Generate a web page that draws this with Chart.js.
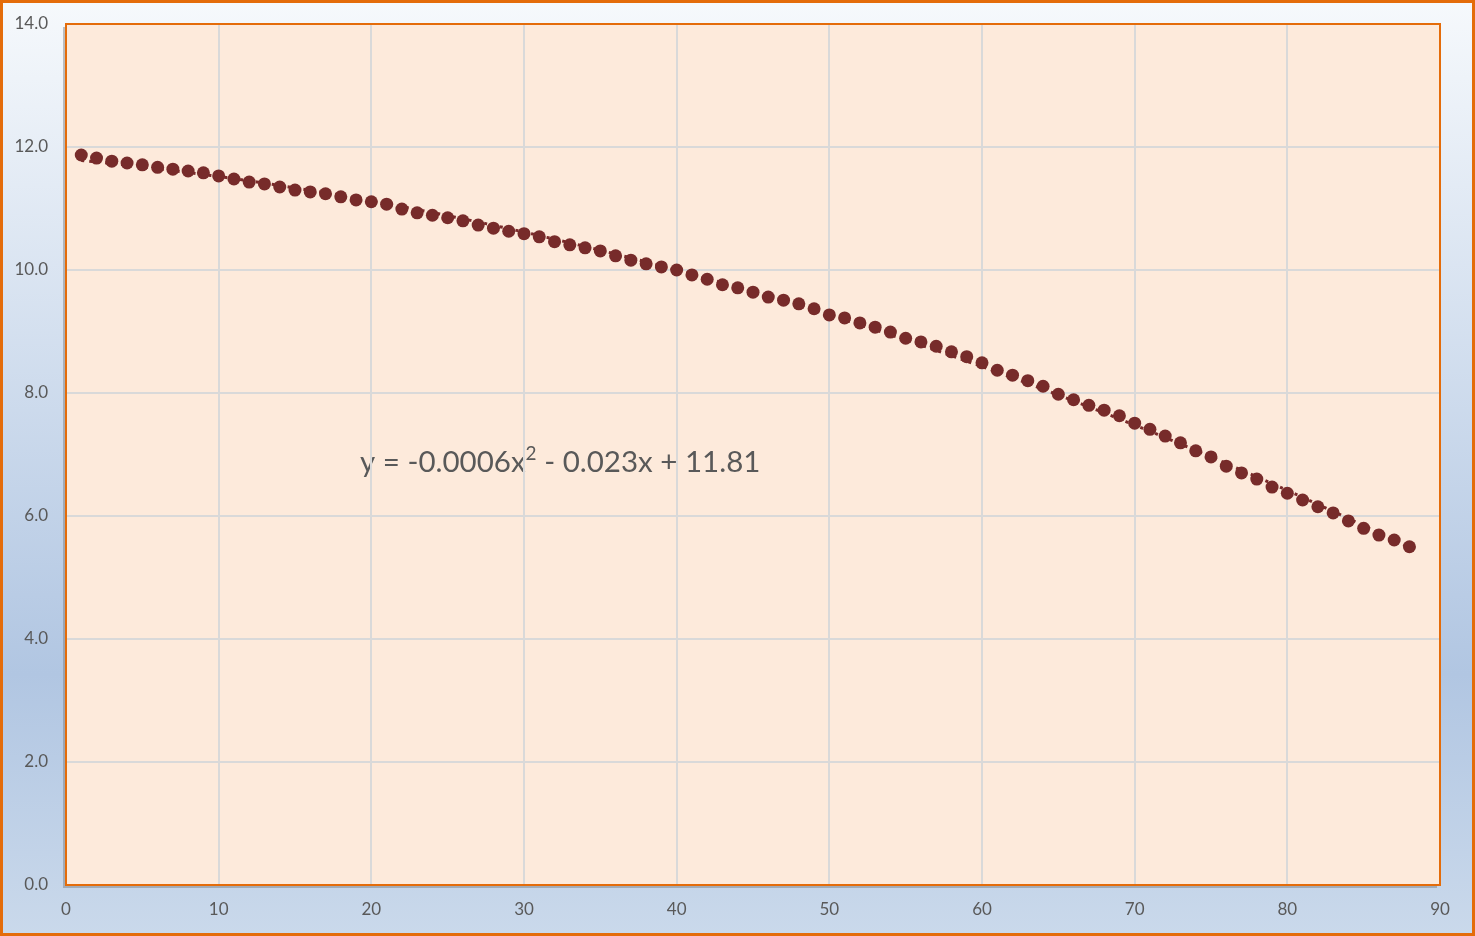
<!DOCTYPE html>
<html>
<head>
<meta charset="utf-8">
<script src="https://cdn.jsdelivr.net/npm/chart.js@4.4.1/dist/chart.umd.min.js"></script>
<style>
  html, body { margin: 0; padding: 0; background: #ffffff; }
  #wrap { width: 1475px; height: 936px; position: relative; }
</style>
</head>
<body>
<div id="wrap"><canvas id="c" width="1475" height="936"></canvas></div>
<script>
// ---- Data ----
const xValues = [
  1,2,3,4,5,6,7,8,9,10,11,12,13,14,15,16,17,18,19,20,21,22,23,24,25,26,27,28,29,30,
  31,32,33,34,35,36,37,38,39,40,41,42,43,44,45,46,47,48,49,50,51,52,53,54,55,56,57,58,59,60,
  61,62,63,64,65,66,67,68,69,70,71,72,73,74,75,76,77,78,79,80,81,82,83,84,85,86,87,88
];
const yValues = [
  11.87,11.82,11.77,11.74,11.71,11.67,11.64,11.61,11.58,11.53,
  11.48,11.43,11.40,11.35,11.30,11.27,11.24,11.19,11.14,11.11,
  11.07,10.99,10.93,10.89,10.85,10.80,10.73,10.68,10.63,10.59,
  10.54,10.46,10.41,10.36,10.31,10.23,10.16,10.10,10.05,10.00,
  9.92,9.85,9.76,9.71,9.64,9.56,9.51,9.45,9.37,9.27,
  9.22,9.14,9.07,8.99,8.89,8.83,8.76,8.67,8.59,8.49,
  8.37,8.29,8.20,8.11,7.98,7.89,7.80,7.72,7.63,7.51,
  7.41,7.30,7.19,7.06,6.96,6.81,6.70,6.60,6.47,6.37,
  6.26,6.15,6.05,5.92,5.80,5.69,5.61,5.50
];
const xTicks = [0,10,20,30,40,50,60,70,80,90];
const yTicks = [0,2,4,6,8,10,12,14];
const equationParts = ["y = -0.0006x", "2", " - 0.023x + 11.81"];

// ---- Polynomial (order 2) least squares trendline from the data ----
function polyFit2(xs, ys) {
  let n = xs.length, s = [0,0,0,0,0], t = [0,0,0];
  for (let i = 0; i < n; i++) {
    let p = 1;
    for (let k = 0; k < 5; k++) { s[k] += p; if (k < 3) t[k] += p * ys[i]; p *= xs[i]; }
  }
  const A = [[s[0],s[1],s[2],t[0]],[s[1],s[2],s[3],t[1]],[s[2],s[3],s[4],t[2]]];
  for (let i = 0; i < 3; i++) {
    for (let j = i + 1; j < 3; j++) {
      const f = A[j][i] / A[i][i];
      for (let k = i; k < 4; k++) A[j][k] -= f * A[i][k];
    }
  }
  const c = [0,0,0];
  for (let i = 2; i >= 0; i--) {
    let v = A[i][3];
    for (let k = i + 1; k < 3; k++) v -= A[i][k] * c[k];
    c[i] = v / A[i][i];
  }
  return c; // c0 + c1 x + c2 x^2
}
const coef = polyFit2(xValues, yValues);
const trendPts = [];
for (let x = xValues[0]; x <= xValues[xValues.length - 1] + 1e-9; x += 0.5) {
  trendPts.push({ x: x, y: coef[0] + coef[1] * x + coef[2] * x * x });
}
const points = xValues.map((x, i) => ({ x: x, y: yValues[i] }));

const FONT = "Lato, 'Open Sans', 'Liberation Sans', sans-serif";
const ORANGE = '#e46c0a';

const bgPlugin = {
  id: 'bg',
  beforeDraw(chart) {
    const ctx = chart.ctx, W = chart.width, H = chart.height, a = chart.chartArea;
    ctx.save();
    const g = ctx.createLinearGradient(0, 0, 0, H);
    g.addColorStop(0, '#f6f9fc');
    g.addColorStop(0.72, '#b1c6e2');
    g.addColorStop(1, '#cad9eb');
    ctx.fillStyle = g;
    ctx.fillRect(0, 0, W, H);
    // shadow of plot area
    ctx.fillStyle = 'rgba(120,120,120,0.45)';
    ctx.fillRect(a.left - 3, a.top + 3, a.right - a.left, a.bottom - a.top);
    // plot area fill
    ctx.fillStyle = '#fdeadb';
    ctx.fillRect(a.left, a.top, a.right - a.left, a.bottom - a.top);
    // equation label (below gridlines, as in the reference)
    ctx.fillStyle = '#595959';
    ctx.textBaseline = 'alphabetic';
    ctx.textAlign = 'left';
    let x = 360, y = 472;
    ctx.font = '29.5px ' + FONT;
    ctx.fillText(equationParts[0], x, y);
    x += ctx.measureText(equationParts[0]).width;
    ctx.font = '19px ' + FONT;
    ctx.fillText(equationParts[1], x, y - 12);
    x += ctx.measureText(equationParts[1]).width;
    ctx.font = '29.5px ' + FONT;
    ctx.fillText(equationParts[2], x, y);
    ctx.restore();
  },
  afterDraw(chart) {
    const ctx = chart.ctx, W = chart.width, H = chart.height, a = chart.chartArea;
    ctx.save();
    ctx.strokeStyle = ORANGE;
    ctx.lineWidth = 2;
    ctx.strokeRect(a.left, a.top, a.right - a.left, a.bottom - a.top);
    ctx.lineWidth = 3;
    ctx.strokeRect(1.5, 1.5, W - 3, H - 3);
    ctx.restore();
  }
};

new Chart(document.getElementById('c'), {
  type: 'scatter',
  data: {
    datasets: [
      {
        label: 'Trend',
        data: trendPts,
        showLine: true,
        pointRadius: 0,
        borderColor: '#7a2a2a',
        borderWidth: 3,
        borderDash: [3, 5],
        fill: false,
        order: 2
      },
      {
        label: 'Data',
        data: points,
        pointRadius: 6.5,
        pointHoverRadius: 6.5,
        backgroundColor: '#772b2a',
        borderColor: '#772b2a',
        borderWidth: 0,
        showLine: false,
        order: 1
      }
    ]
  },
  options: {
    responsive: false,
    animation: false,
    layout: { padding: { left: 0, top: 24, right: 35, bottom: 0 } },
    plugins: { legend: { display: false }, tooltip: { enabled: false } },
    scales: {
      x: {
        type: 'linear',
        min: 0, max: 90,
        afterBuildTicks(s) { s.ticks = xTicks.map(v => ({ value: v })); },
        afterFit(s) { s.height = 51; s.paddingLeft = 0; s.paddingRight = 0; },
        grid: { color: '#d9d9d9', lineWidth: 2, drawTicks: false },
        border: { display: false },
        ticks: { color: '#595959', font: { family: FONT, size: 17 }, padding: 14, maxRotation: 0,
                 callback: v => String(v) }
      },
      y: {
        type: 'linear',
        min: 0, max: 14,
        afterBuildTicks(s) { s.ticks = yTicks.map(v => ({ value: v })); },
        afterFit(s) { s.width = 66; s.paddingTop = 0; s.paddingBottom = 0; },
        grid: { color: '#d9d9d9', lineWidth: 2, drawTicks: false },
        border: { display: false },
        ticks: { color: '#595959', font: { family: FONT, size: 17 }, padding: 18,
                 callback: v => Number(v).toFixed(1) }
      }
    }
  },
  plugins: [bgPlugin]
});
</script>
</body>
</html>
